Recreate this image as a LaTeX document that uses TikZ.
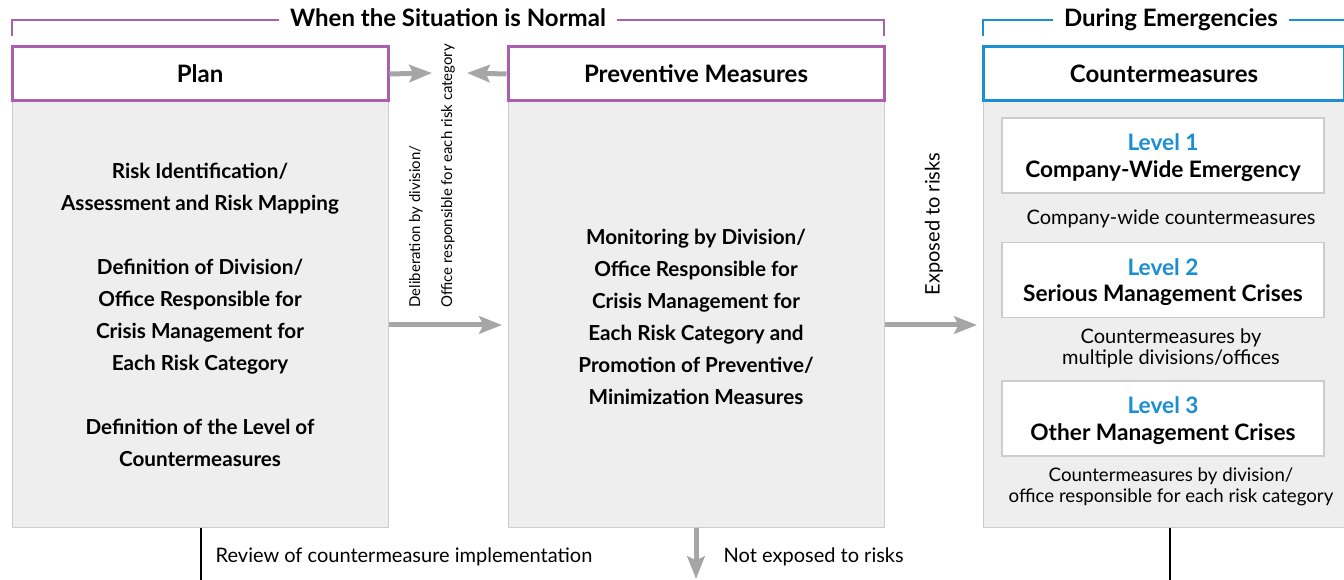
\documentclass[tikz,border=0pt]{standalone}
\usepackage{fontspec}
\setmainfont{Lato}
\usetikzlibrary{arrows.meta}
\definecolor{purp}{HTML}{A95FAE}
\definecolor{blu}{HTML}{1A8FD3}
\definecolor{arr}{HTML}{A6A6A6}
\definecolor{bodyg}{HTML}{EEEEEE}
\definecolor{edgeg}{HTML}{CCCCCC}
\begin{document}
\begin{tikzpicture}[x=0.75pt,y=-0.75pt,
  hdr/.style={draw=#1, line width=2.25pt, fill=white, minimum height=40.5pt, inner sep=0pt,
    font=\fontsize{18}{21}\selectfont\bfseries},
  bodybox/.style={draw=edgeg, line width=0.75pt, fill=bodyg, inner sep=0pt},
  bodytxt/.style={align=center, font=\fontsize{15.5}{24}\selectfont\bfseries},
  lvl/.style={draw=edgeg, line width=1.1pt, fill=white, minimum width=241.5pt, minimum height=56.25pt,
    inner sep=0pt, align=center, text depth=0pt, font=\fontsize{17}{20}\selectfont\bfseries},
  captxt/.style={align=center, font=\fontsize{15}{15.75}\selectfont},
  note/.style={font=\fontsize{15}{18}\selectfont},
  smalltxt/.style={font=\fontsize{11.2}{24}\selectfont, rotate=90, align=left},
  garrow/.style={draw=arr, line width=3.75pt, -{Stealth[length=17pt,width=13pt,inset=3pt]}},
  brk/.style={line width=0.9pt},
  ttl/.style={font=\fontsize{18}{21}\selectfont\bfseries, inner sep=8pt, anchor=base}
  ]
\useasboundingbox (0,0) rectangle (1344,580);

% bodies
\node[bodybox, minimum width=282pt, minimum height=319.5pt] (planb) at (200,314) {};
\node[bodybox, minimum width=282pt, minimum height=319.5pt] (prevb) at (696,314) {};
\node[bodybox, minimum width=271pt, minimum height=319.5pt] (cmb) at (1164,314) {};

% headers
\node[hdr=purp, minimum width=282pt] (plan) at (200,74) {Plan};
\node[hdr=purp, minimum width=282pt] (prev) at (696,74) {Preventive Measures};
\node[hdr=blu, minimum width=271pt] (cm) at (1164,74) {Countermeasures};

% body texts
\node[bodytxt] (plant) at (200,315) {Risk Identification/\\Assessment and Risk Mapping\\[24pt]
Definition of Division/\\Office Responsible for\\Crisis Management for\\Each Risk Category\\[24pt]
Definition of the Level of\\Countermeasures};
\node[bodytxt] (prevt) at (696,317) {Monitoring by Division/\\Office Responsible for\\Crisis Management for\\Each Risk Category and\\Promotion of Preventive/\\Minimization Measures};

% levels
\node[lvl] (l1) at (1163,155.5) {{\color{blu}Level 1}\\Company-Wide Emergency};
\node[captxt] (c1) at (1171,219) {Company-wide countermeasures};
\node[lvl] (l2) at (1163,280) {{\color{blu}Level 2}\\Serious Management Crises};
\node[captxt] (c2) at (1171,348) {Countermeasures by\\multiple divisions/offices};
\node[lvl] (l3) at (1163,418.5) {{\color{blu}Level 3}\\Other Management Crises};
\node[captxt, font=\fontsize{14}{15.75}\selectfont] (c3) at (1171,487) {Countermeasures by division/\\office responsible for each risk category};

% brackets
\node[ttl] (t1) at (448,26.5) {When the Situation is Normal};
\draw[purp, brk] (12,36) -- (12,20) -- (t1.west |- 0,20);
\draw[purp, brk] (t1.east |- 0,20) -- (884,20) -- (884,36);
\node[ttl] (t2) at (1171,26.5) {During Emergencies};
\draw[blu, brk] (983,36) -- (983,20) -- (t2.west |- 0,20);
\draw[blu, brk] (t2.east |- 0,20) -- (1344,20);

% arrows
\coordinate (m1) at (432,73);
\coordinate (m2) at (467,73);
\draw[garrow] (plan.east) -- (m1);
\draw[garrow] (prev.west) -- (m2);
\coordinate (a1) at (502,325);
\draw[garrow] (planb.east |- a1) -- (a1);
\coordinate (a2) at (977,325);
\draw[garrow] (prevb.east |- a2) -- (a2);
\coordinate (a3) at (696,579);
\draw[garrow] (prevb.south) -- (a3);

\node[smalltxt, anchor=west] (delib) at (432,312) {Deliberation by division/\\Office responsible for each risk category};
\node[note, rotate=90, anchor=west] (exp) at (934,300) {Exposed to risks};

% review lines
\coordinate (r1) at (201,580);
\draw[black, line width=0.9pt] (planb.south -| r1) -- (r1);
\coordinate (r2) at (1170,580);
\draw[black, line width=0.9pt] (cmb.south -| r2) -- (r2);

\node[note, anchor=west] (rev) at (211,557) {Review of countermeasure implementation};
\node[note, anchor=west] (nex) at (719,557) {Not exposed to risks};
\end{tikzpicture}
\end{document}
